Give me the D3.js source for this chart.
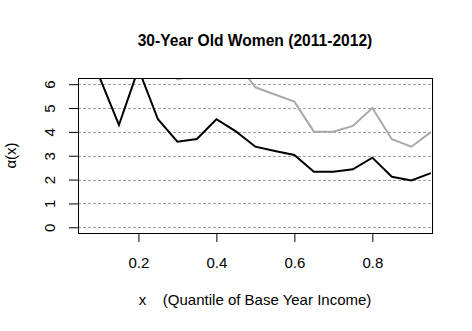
<!DOCTYPE html>
<html>
<head>
<meta charset="utf-8">
<script src="https://cdn.jsdelivr.net/npm/d3@7"></script>
<style>
  body { margin: 0; background: #fff; }
  text { font-family: "Liberation Sans", Arial, sans-serif; }
</style>
</head>
<body>
<svg id="chart"></svg>
<script>
// quantiles of base year income
const quantiles = [0.05, 0.1, 0.15, 0.2, 0.25, 0.3, 0.35, 0.4, 0.45, 0.5,
                   0.55, 0.6, 0.65, 0.7, 0.75, 0.8, 0.85, 0.9, 0.95];
// black line
const alphaBlack = [7.5, 6.3, 4.29, 6.65, 4.53, 3.59, 3.70, 4.53, 4.02, 3.38,
                    3.2, 3.03, 2.33, 2.33, 2.43, 2.92, 2.12, 1.96, 2.27];
// gray line (mostly above the plot at low quantiles)
const alphaGray = [9.0, 8.5, 9.5, 8.8, 7.5, 6.2, 6.4, 7.2, 6.95, 5.87,
                   5.57, 5.27, 4.01, 4.01, 4.25, 5.0, 3.69, 3.38, 3.99];
const yTicks = [0, 1, 2, 3, 4, 5, 6];
const xTicks = [0.2, 0.4, 0.6, 0.8];

const width = 472, height = 331;
const mLeft = 78, mRight = 432, mTop = 78, mBottom = 233;

const svg = d3.select('#chart')
  .attr('width', width)
  .attr('height', height);

const x = d3.scaleLinear().domain([0.045, 0.953]).range([mLeft, mRight]);
const y = d3.scaleLinear().domain([-0.24, 6.26]).range([mBottom, mTop]);

svg.append('defs').append('clipPath').attr('id', 'plot')
  .append('rect')
    .attr('x', mLeft).attr('y', mTop)
    .attr('width', mRight - mLeft).attr('height', mBottom - mTop);

// dashed grid
svg.append('g')
  .selectAll('line')
  .data(yTicks)
  .join('line')
    .attr('x1', mLeft).attr('x2', mRight)
    .attr('y1', d => Math.round(y(d)) + 0.5)
    .attr('y2', d => Math.round(y(d)) + 0.5)
    .attr('stroke', '#a0a0a0')
    .attr('stroke-dasharray', '3,2');

const line = d3.line()
  .x((d, i) => x(quantiles[i]))
  .y(d => y(d));

const lines = svg.append('g').attr('clip-path', 'url(#plot)');
lines.append('path')
  .attr('d', line(alphaGray))
  .attr('fill', 'none')
  .attr('stroke', '#a9a9a9')
  .attr('stroke-width', 2);
lines.append('path')
  .attr('d', line(alphaBlack))
  .attr('fill', 'none')
  .attr('stroke', '#000')
  .attr('stroke-width', 2);

// axes
const xAxis = d3.axisBottom(x).tickValues(xTicks).tickSize(9).tickPadding(6)
  .tickFormat(d3.format('.1f'));
const gx = svg.append('g')
  .attr('transform', `translate(0, ${mBottom})`)
  .call(xAxis);
gx.select('.domain').remove();
gx.selectAll('text').attr('font-size', 15).attr('fill', '#000')
  .attr('font-family', '"Liberation Sans", Arial, sans-serif')
  .attr('y', 0).attr('dy', null)
  .attr('transform', 'translate(0, 34.5)');

const yAxis = d3.axisLeft(y).tickValues(yTicks).tickSize(9).tickFormat(d3.format('d'));
const gy = svg.append('g')
  .attr('transform', `translate(${mLeft}, 0)`)
  .call(yAxis);
gy.select('.domain').remove();
gy.selectAll('text')
  .attr('font-size', 15).attr('fill', '#000')
  .attr('font-family', '"Liberation Sans", Arial, sans-serif')
  .attr('x', 0).attr('dy', null)
  .attr('text-anchor', 'middle')
  .attr('transform', 'translate(-23, 0) rotate(-90)');

// box
svg.append('rect')
  .attr('x', mLeft + 0.5).attr('y', mTop + 0.5)
  .attr('width', mRight - mLeft).attr('height', mBottom - mTop)
  .attr('fill', 'none')
  .attr('stroke', '#000');

// titles
svg.append('text')
  .attr('x', (mLeft + mRight) / 2).attr('y', 46)
  .attr('text-anchor', 'middle')
  .attr('font-size', 15.6).attr('font-weight', 'bold')
  .text('30-Year Old Women (2011-2012)');

svg.append('text')
  .attr('x', (mLeft + mRight) / 2).attr('y', 305)
  .attr('text-anchor', 'middle')
  .attr('font-size', 15)
  .style('white-space', 'pre')
  .text('x    (Quantile of Base Year Income)');

svg.append('text')
  .attr('transform', `translate(16, ${(mTop + mBottom) / 2}) rotate(-90)`)
  .attr('text-anchor', 'middle')
  .attr('font-size', 15)
  .text('α(x)');
</script>
</body>
</html>
